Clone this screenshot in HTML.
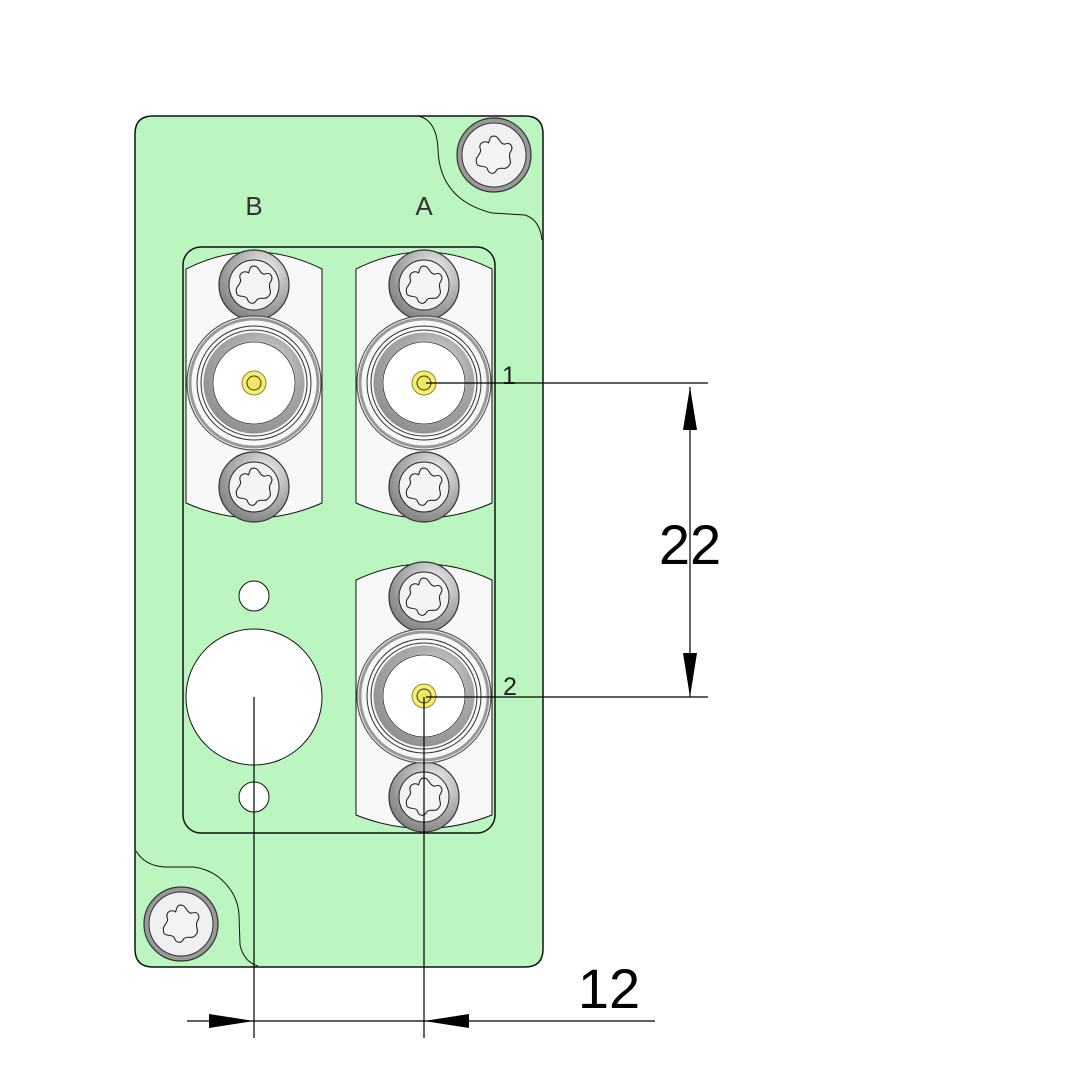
<!DOCTYPE html>
<html><head><style>html,body{margin:0;padding:0;background:#fff}svg{display:block}</style></head>
<body>
<svg width="1083" height="1083" viewBox="0 0 1083 1083" xmlns="http://www.w3.org/2000/svg">
<defs>
<radialGradient id="sg" cx="0.65" cy="0.3" r="0.8">
<stop offset="0" stop-color="#f2f2f2"/><stop offset="0.45" stop-color="#b8b8b8"/><stop offset="1" stop-color="#7a7a7a"/>
</radialGradient>
<radialGradient id="rg" cx="0.6" cy="0.35" r="0.8">
<stop offset="0" stop-color="#e8e8e8"/><stop offset="0.5" stop-color="#aaaaaa"/><stop offset="1" stop-color="#8a8a8a"/>
</radialGradient>
<g id="star">
<path transform="scale(1.35)" d="M0,-14 C4,-14 4,-8 8,-8 C12,-10 15,-6 12,-2 C10,2 14,5 11,8 C8,12 5,8 2,11 C0,15 -4,14 -5,10 C-7,7 -13,10 -13,5 C-14,1 -9,-1 -10,-4 C-12,-9 -7,-11 -4,-9 C-3,-12 -3,-14 0,-14 Z" fill="#f4f4f4" stroke="#222" stroke-width="0.8"/>
</g>
<g id="screw">
<circle r="35" fill="url(#sg)" stroke="#333" stroke-width="1.2"/>
<circle r="25" fill="#f2f2f2" stroke="#222" stroke-width="1"/>
<use href="#star"/>
</g>
<g id="bigscrew">
<circle r="37" fill="#999" stroke="#333" stroke-width="1.2"/>
<circle r="32" fill="#f0f0f0" stroke="#333" stroke-width="1"/>
<use href="#star"/>
</g>
<g id="bnc">
<circle r="67" fill="#f8f8f8" stroke="#555" stroke-width="1.2"/>
<circle r="64" fill="none" stroke="#999" stroke-width="3"/>
<circle r="57" fill="none" stroke="#333" stroke-width="1"/>
<circle r="53" fill="none" stroke="#333" stroke-width="1"/>
<circle r="46" fill="#fff" stroke="url(#rg)" stroke-width="9"/>
<circle r="41" fill="#fff" stroke="#333" stroke-width="0.8"/>
<circle r="12" fill="#f5ef6a" stroke="#8a8a40" stroke-width="1"/>
<circle r="7" fill="#f0e860" stroke="#333" stroke-width="1"/>
</g>
</defs>

<path d="M153,116 L525,116 Q543,116 543,134 L543,949 Q543,967 525,967 L153,967 Q135,967 135,949 L135,134 Q135,116 153,116 Z" fill="#bbf5c0" stroke="#111" stroke-width="1.5"/>
<path d="M418,116 Q437,120 438,150 Q440,200 492,213 L525,215 Q540,220 542,240" fill="none" stroke="#111" stroke-width="1"/>
<path d="M136,851 Q145,866 165,867 L193,867 Q210,869 222,880 Q238,895 239,915 L240,945 Q244,962 258,966" fill="none" stroke="#111" stroke-width="1"/>
<rect x="183" y="247" width="312" height="586" rx="18" fill="none" stroke="#111" stroke-width="1.5"/>

<path d="M186,269 Q254,235 322,269 L322,503 Q254,533 186,503 Z" fill="#f8f8f8" stroke="#111" stroke-width="1"/>
<path d="M356,269 Q424,235 492,269 L492,503 Q424,533 356,503 Z" fill="#f8f8f8" stroke="#111" stroke-width="1"/>
<path d="M356,580 Q424,548 492,580 L492,815 Q424,842 356,815 Z" fill="#f8f8f8" stroke="#111" stroke-width="1"/>

<use href="#screw" x="254" y="285"/>
<use href="#screw" x="254" y="487"/>
<use href="#screw" x="424" y="285"/>
<use href="#screw" x="424" y="487"/>
<use href="#screw" x="424" y="597"/>
<use href="#screw" x="424" y="797"/>
<use href="#bnc" x="254" y="383"/>
<use href="#bnc" x="424" y="383"/>
<use href="#bnc" x="424" y="696"/>
<use href="#bigscrew" x="494" y="155"/>
<use href="#bigscrew" x="181" y="924"/>

<circle cx="254" cy="596" r="15" fill="#fff" stroke="#111" stroke-width="1"/>
<circle cx="254" cy="697" r="68" fill="#fff" stroke="#111" stroke-width="1"/>
<circle cx="254" cy="797" r="15" fill="#fff" stroke="#111" stroke-width="1"/>

<g font-family="Liberation Sans, sans-serif">
<text x="254" y="215" font-size="26" text-anchor="middle" fill="#333">B</text>
<text x="424" y="215" font-size="26" text-anchor="middle" fill="#333">A</text>
<text x="509" y="384" font-size="25" text-anchor="middle" fill="#222">1</text>
<text x="510" y="695" font-size="25" text-anchor="middle" fill="#222">2</text>
</g>

<g stroke="#000" stroke-width="1.2" fill="none">
<line x1="426" y1="383" x2="708" y2="383"/>
<line x1="426" y1="697" x2="708" y2="697"/>
<line x1="690" y1="387" x2="690" y2="697"/>
<line x1="254" y1="697" x2="254" y2="1038"/>
<line x1="424" y1="697" x2="424" y2="1038"/>
<line x1="187" y1="1021" x2="655" y2="1021"/>
</g>
<g fill="#000">
<polygon points="690,387 683,430 697,430"/>
<polygon points="690,697 683,653 697,653"/>
<polygon points="254,1021 209,1014 209,1028"/>
<polygon points="424,1021 469,1014 469,1028"/>
</g>
<g font-family="Liberation Sans, sans-serif" fill="#000">
<text x="690" y="564" font-size="56" text-anchor="middle">22</text>
<text x="609" y="1008" font-size="56" text-anchor="middle">12</text>
</g>
</svg>
</body></html>
